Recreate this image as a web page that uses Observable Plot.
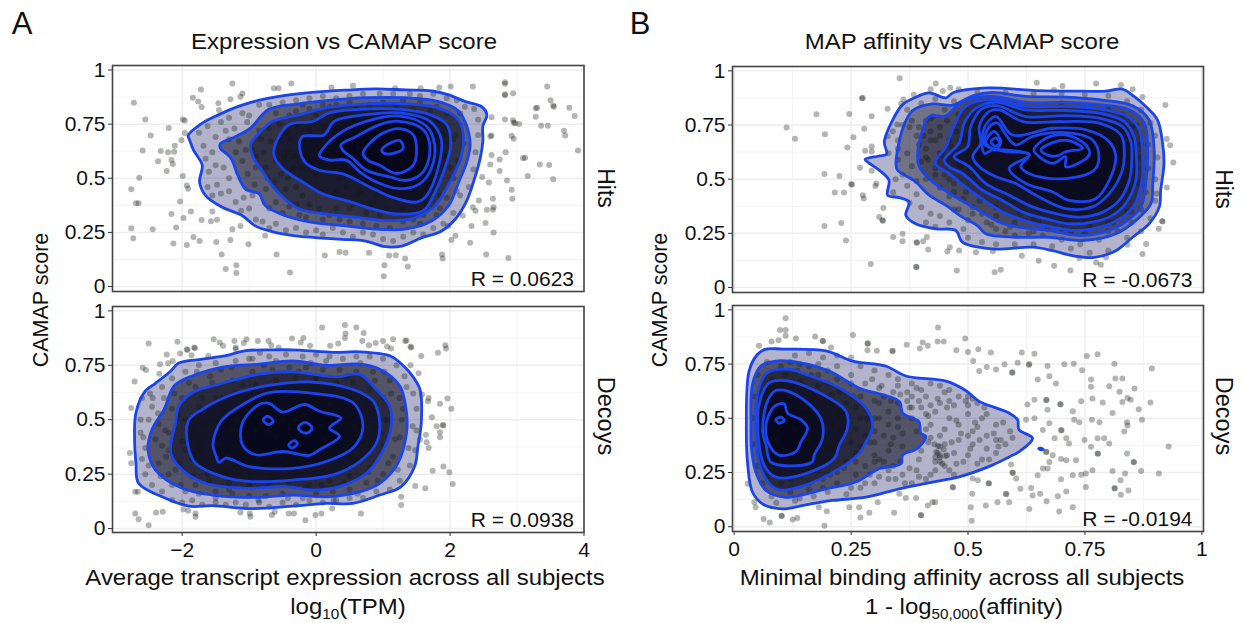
<!DOCTYPE html>
<html><head><meta charset="utf-8">
<script src="https://cdn.jsdelivr.net/npm/d3@7"></script>
<script src="https://cdn.jsdelivr.net/npm/@observablehq/plot@0.6"></script>
<style>
html,body{margin:0;padding:0;background:#fff}
#page{position:relative;width:1246px;height:623px;overflow:hidden;font-family:"Liberation Sans",Arial,sans-serif;color:#111}
#page svg{position:absolute;font-family:"Liberation Sans",Arial,sans-serif}
.t{position:absolute;white-space:nowrap;line-height:1}
.t sub{font-size:14px;line-height:0;vertical-align:-5px}
</style></head><body><div id="page"></div>
<script>
const panelTitles = ["Expression vs CAMAP score","MAP affinity vs CAMAP score"];
const xLabelsA = ["Average transcript expression across all subjects","log<sub>10</sub>(TPM)"];
const xLabelsB = ["Minimal binding affinity across all subjects","1 - log<sub>50,000</sub>(affinity)"];
const yTicks = [0,0.25,0.5,0.75,1];
const xTicksA = [-2,0,2,4];
const xTicksB = [0,0.25,0.5,0.75,1];
const rValues = ["R = 0.0623","R = 0.0938","R = -0.0673","R = -0.0194"];

const hitsExprContours = [
[-1.91,.698,-1.7,.755,-1.45,.794,-1.15,.833,-.86,.86,-.46,.883,-.06,.897,.44,.907,.89,.913,1.33,.908,1.73,.903,1.98,.885,2.23,.854,2.48,.829,2.55,.794,2.49,.74,2.49,.67,2.45,.592,2.35,.483,2.25,.397,2.08,.312,1.86,.254,1.58,.226,1.28,.187,1.03,.184,.74,.21,.39,.218,-.01,.226,-.31,.234,-.66,.254,-.91,.28,-1.1,.327,-1.4,.366,-1.65,.42,-1.74,.483,-1.7,.56,-1.83,.63,-1.89,.678],
[-1.43,.659,-1.2,.693,-.98,.732,-.71,.818,-.26,.844,.19,.86,.74,.872,1.33,.872,1.83,.854,2.13,.81,2.25,.74,2.3,.654,2.25,.576,2.13,.483,1.98,.374,1.73,.304,1.33,.265,.89,.265,.44,.28,-.06,.296,-.46,.327,-.76,.374,-.85,.428,-1.05,.449,-1.17,.514,-1.27,.592,-1.43,.639],
[-.98,.654,-.85,.709,-.65,.763,-.25,.794,.15,.826,.75,.844,1.35,.844,1.8,.826,2.1,.779,2.19,.717,2.17,.607,2,.483,1.75,.366,1.45,.315,1.05,.304,.6,.319,.15,.335,-.25,.358,-.55,.428,-.8,.53,-.93,.592],
[-.63,.607,-.58,.678,-.4,.748,-.05,.763,.2,.802,.65,.818,1.25,.818,1.7,.794,1.95,.748,2.01,.654,1.92,.545,1.75,.42,1.6,.35,1.2,.335,.85,.358,.45,.397,.1,.428,-.2,.483,-.5,.545],
[-.25,.654,-.2,.693,.12,.7,.27,.763,.75,.794,1.25,.802,1.7,.763,1.87,.678,1.82,.545,1.65,.42,1.5,.39,1.13,.413,.8,.46,.4,.52,.05,.537,-.17,.576],
[.05,.604,.15,.654,.4,.717,.75,.763,1.25,.787,1.65,.74,1.77,.654,1.72,.545,1.55,.475,1.25,.452,.9,.483,.65,.53,.45,.584,.2,.584],
[.37,.654,.6,.693,.95,.748,1.25,.763,1.6,.724,1.7,.639,1.6,.53,1.35,.49,1.1,.506,.75,.537,.55,.592,.4,.63],
[.7,.615,.8,.662,1,.709,1.25,.729,1.45,.7,1.5,.63,1.45,.56,1.2,.522,.95,.56,.77,.584],
[.98,.63,1.1,.662,1.25,.674,1.3,.639,1.15,.615,1.02,.615]];

const decoyExprContours = [
[-2.71,.408,-2.69,.532,-2.55,.632,-2.4,.667,-2.17,.724,-2.05,.76,-1.7,.778,-1.35,.794,-1.05,.817,-.65,.821,-.25,.82,.25,.809,.65,.812,1.1,.794,1.25,.763,1.4,.716,1.55,.639,1.57,.485,1.52,.377,1.47,.285,1.27,.193,.95,.154,.55,.116,.15,.116,-.35,.103,-.95,.092,-1.55,.105,-1.9,.103,-2.3,.146,-2.65,.208,-2.69,.3],
[-2.51,.362,-2.45,.455,-2.27,.547,-2.12,.655,-1.85,.701,-1.35,.744,-.85,.755,-.35,.77,.15,.75,.65,.755,.95,.732,1.25,.655,1.35,.532,1.35,.439,1.22,.3,.95,.208,.65,.169,.15,.146,-.35,.154,-.9,.143,-1.55,.154,-2,.185,-2.4,.27],
[-2.17,.347,-2.1,.485,-2.05,.562,-1.85,.624,-1.45,.663,-.85,.709,-.35,.72,.15,.701,.35,.698,.65,.709,.85,.655,1.1,.562,1.12,.47,.98,.347,.75,.254,.35,.193,-.05,.177,-.45,.193,-1.05,.185,-1.65,.208,-2,.27],
[-1.91,.377,-1.91,.493,-1.7,.547,-1.25,.616,-.75,.655,-.05,.673,.55,.639,.85,.586,.95,.485,.9,.393,.65,.308,.25,.247,-.35,.223,-.95,.216,-1.4,.239,-1.8,.3],
[-1.54,.385,-1.42,.493,-1.05,.578,-.7,.624,-.05,.621,.55,.578,.7,.47,.55,.37,.15,.308,-.35,.277,-1,.285,-1.35,.324,-1.45,.304,-1.49,.331],
[-1.1,.485,-.85,.57,-.7,.575,-.5,.535,-.17,.57,.05,.539,.37,.508,.2,.462,.35,.424,.05,.362,-.1,.336,-.5,.354,-.9,.339,-1.1,.385],
[-.79,.5,-.72,.516,-.64,.493,-.72,.478],
[-.26,.467,-.16,.488,-.06,.462,-.13,.439,-.23,.447],
[-.41,.385,-.32,.404,-.28,.39,-.36,.37]];

const hitsAffContours = [
[.28,.591,.31,.607,.326,.616,.321,.673,.339,.774,.36,.844,.385,.875,.417,.898,.453,.875,.467,.898,.545,.921,.638,.91,.745,.906,.795,.906,.83,.916,.855,.882,.88,.836,.905,.774,.916,.666,.919,.573,.912,.449,.909,.372,.887,.294,.852,.232,.816,.17,.77,.139,.723,.147,.681,.17,.638,.186,.552,.178,.488,.209,.474,.263,.431,.271,.388,.294,.367,.333,.374,.395,.353,.415,.328,.426,.331,.495,.31,.542,.289,.573],
[.346,.573,.36,.731,.381,.816,.424,.847,.467,.842,.51,.885,.552,.901,.624,.882,.709,.879,.78,.867,.852,.839,.887,.774,.898,.635,.895,.48,.891,.387,.859,.31,.816,.248,.745,.217,.674,.232,.602,.232,.538,.248,.52,.286,.488,.325,.453,.379,.417,.426,.388,.488,.349,.542],
[.392,.604,.403,.728,.417,.789,.453,.793,.488,.859,.552,.882,.624,.854,.709,.854,.78,.844,.845,.82,.877,.759,.884,.635,.88,.48,.87,.372,.845,.317,.802,.263,.738,.24,.674,.263,.609,.279,.567,.302,.517,.364,.467,.426,.424,.488,.396,.557],
[.43,.573,.453,.65,.467,.728,.495,.836,.552,.867,.624,.836,.709,.836,.78,.824,.841,.789,.866,.728,.873,.619,.872,.495,.855,.379,.83,.325,.788,.282,.73,.263,.681,.279,.631,.302,.581,.341,.545,.387,.495,.464,.46,.526],
[.449,.588,.481,.666,.492,.759,.517,.828,.56,.854,.624,.82,.709,.817,.78,.805,.834,.766,.855,.697,.86,.604,.859,.495,.837,.387,.809,.333,.766,.302,.716,.294,.667,.317,.617,.348,.574,.402,.531,.449,.488,.526,.46,.557],
[.47,.604,.499,.65,.506,.743,.527,.82,.56,.839,.624,.789,.709,.793,.78,.782,.83,.743,.848,.673,.85,.58,.845,.495,.823,.402,.788,.348,.738,.325,.688,.341,.638,.372,.588,.426,.538,.48,.503,.557],
[.51,.604,.527,.666,.524,.743,.545,.813,.567,.82,.617,.766,.702,.766,.78,.759,.827,.704,.834,.635,.83,.542,.802,.433,.766,.372,.709,.364,.645,.426,.602,.48,.56,.511,.524,.557],
[.535,.619,.531,.697,.538,.751,.56,.789,.595,.704,.681,.735,.752,.728,.802,.673,.816,.604,.802,.495,.773,.41,.716,.402,.681,.441,.624,.48,.588,.55,.631,.611,.553,.635],
[.535,.663,.546,.743,.563,.759,.581,.704,.602,.658,.638,.697,.709,.715,.766,.681,.78,.604,.77,.542,.709,.503,.638,.519,.613,.557,.631,.616,.581,.627,.553,.642],
[.641,.635,.667,.689,.709,.704,.752,.658,.759,.611,.709,.557,.709,.604,.681,.573,.652,.604],
[.656,.635,.681,.669,.716,.678,.745,.642,.709,.627,.691,.607,.67,.611],
[.538,.673,.556,.72,.57,.673,.56,.635,.545,.65],
[.549,.673,.56,.69,.567,.666,.558,.653]];

const decoyAffContours = [
[.026,.47,.032,.719,.05,.795,.068,.819,.103,.819,.196,.811,.253,.764,.324,.741,.367,.695,.453,.671,.495,.628,.524,.578,.588,.524,.606,.493,.609,.447,.638,.408,.609,.346,.588,.322,.552,.284,.481,.23,.424,.206,.353,.175,.282,.136,.21,.121,.153,.101,.103,.082,.061,.105,.039,.16,.029,.284],
[.036,.47,.039,.656,.057,.741,.089,.764,.139,.757,.203,.718,.267,.64,.353,.578,.36,.524,.395,.485,.399,.431,.41,.416,.392,.361,.36,.33,.357,.291,.31,.268,.26,.206,.196,.175,.11,.136,.068,.167,.046,.253,.037,.361],
[.046,.485,.053,.64,.071,.71,.118,.726,.153,.702,.225,.64,.282,.547,.296,.462,.282,.392,.267,.338,.225,.268,.139,.183,.089,.175,.057,.268],
[.05,.485,.057,.594,.075,.664,.11,.674,.168,.633,.239,.532,.242,.454,.225,.377,.214,.315,.153,.245,.089,.229,.064,.284],
[.061,.439,.071,.578,.089,.628,.132,.609,.185,.501,.189,.408,.171,.33,.167,.299,.118,.281,.078,.299,.068,.377],
[.068,.47,.086,.555,.107,.566,.114,.524,.143,.493,.157,.454,.143,.392,.132,.346,.096,.33,.075,.377],
[.089,.493,.1,.505,.107,.49,.096,.478],
[.651,.36,.656,.362,.661,.357,.656,.355]];

const hitsExprPoints = [
-2.72,.849,-2.55,.771,-2.47,.698,-2.59,.628,-2.64,.502,-2.76,.449,-2.69,.385,-2.65,.385,-2.76,.269,-2.73,.223,-2.44,.265,-2.13,.199,-1.93,.192,-1.83,.229,-1.74,.21,-1.49,.206,-1.35,.081,-1.19,.098,-1.19,.062,-.39,.065,-1.41,.148,-1.28,.215,-1.25,.265,-1.13,.28,-1.01,.195,-.76,.234,-.59,.148,.13,.143,1.02,.098,1.01,.047,1.37,.093,1.33,.129,1.88,.148,1.89,.129,2.54,.148,2.87,.132,1.09,.143,1.19,.145,.79,.156,.44,.156,.35,.16,-2.16,.335,-1.98,.316,-2.09,.273,-1.87,.347,-1.71,.307,-1.57,.301,-1.48,.308,-1.55,.347,-2.03,.393,-1.93,.467,-1.91,.452,-1.99,.511,-2.23,.534,-2.16,.584,-2.14,.566,-2.36,.579,-2.32,.626,-2.21,.62,-2.12,.623,-2.11,.65,-2.01,.675,-1.96,.709,-2.2,.732,-1.99,.771,-1.96,.767,-1.84,.872,-1.76,.854,-1.71,.829,-1.72,.91,-1.25,.938,-1.28,.865,-1.1,.891,-1.13,.877,-1.46,.846,-1.45,.815,-.37,.938,-.63,.916,-.56,.916,.23,.919,.55,.927,1.18,.916,1.56,.916,1.84,.919,2.01,.924,2.34,.924,2.82,.943,2.82,.937,2.82,.888,2.82,.883,2.94,.893,3.45,.924,3.5,.86,3.55,.83,3.54,.836,3.28,.823,3.3,.826,3.78,.826,3.28,.784,3.86,.787,2.82,.771,2.94,.768,2.95,.756,2.97,.754,3.03,.751,3.36,.743,3.46,.743,3.7,.72,3.72,.698,3.91,.628,2.62,.782,2.6,.693,2.62,.697,2.92,.696,2.95,.682,2.83,.62,2.74,.587,2.62,.607,2.6,.564,3.09,.592,3.12,.595,3.34,.564,3.48,.561,3.16,.511,3.54,.495,2.74,.534,2.48,.506,2.58,.48,2.85,.49,2.92,.447,2.93,.405,2.43,.397,2.64,.405,2.34,.366,2.38,.35,2.55,.355,2.65,.366,2.64,.355,2.53,.293,2.65,.249,2.19,.327,2.32,.28,2.3,.202,2.08,.234,2.02,.215,1.97,.28,
-1.75,.71,-1.62,.74,-1.5,.69,-1.68,.65,-1.55,.62,-1.42,.76,-1.3,.78,-1.22,.73,-1.1,.8,-1.03,.76,-1.65,.59,-1.6,.53,-1.5,.56,-1.38,.55,-1.3,.5,-1.48,.47,-1.62,.46,-1.55,.42,-1.42,.43,-1.3,.44,-1.2,.39,-1.08,.41,-1.0,.36,-.9,.31,-.8,.3,-1.12,.35,-.7,.27,-.6,.29,-.45,.26,-.3,.27,-.15,.25,0,.26,.1,.24,.25,.27,.4,.25,.55,.23,.7,.25,.85,.24,1,.22,1.15,.21,1.3,.23,1.45,.25,1.6,.24,1.75,.27,1.9,.29,2.05,.34,2.15,.42,2.28,.46,2.35,.54,2.38,.62,2.42,.7,2.42,.77,2.36,.82,2.22,.83,2.1,.86,1.95,.87,1.75,.89,1.55,.88,1.4,.89,1.15,.89,.95,.89,.7,.89,.5,.88,.3,.87,.1,.88,-.1,.87,-.3,.86,-.5,.85,-.7,.84,-.85,.84,-1,.79,-1.3,.68,-1.2,.62,-1.1,.58,-1.02,.52,-.92,.47,-.75,.45,-.9,.6,-.82,.68,-.7,.73,-.75,.55,-.62,.48,-.55,.75,-.45,.71,-.3,.81,-.1,.82,.1,.84,.3,.84,.5,.85,-.42,.62,-.35,.55,-.45,.45,-.6,.39,-.4,.37,-.25,.33,-.1,.38,.1,.31,.3,.36,.5,.3,.7,.29,.9,.28,1.1,.27,1.3,.3,1.55,.29,1.8,.33,1.95,.41,2.05,.5,2.12,.58,2.2,.66,2.08,.7,2.15,.8,1.95,.8,1.8,.83,1.55,.85,1.3,.86,1,.85,.15,.45,.3,.44,.5,.36,-.1,.72,.05,.67,-.15,.6,.05,.58,.95,.33,1.3,.36,1.6,.39,1.8,.45,1.95,.6,1.9,.7,-.2,.42,.6,.42,.85,.39];
const hitsExprDense = [-.95,.63,-.9,.55,-.85,.72,-.78,.62,-.72,.5,-.68,.67,-.6,.58,-.55,.68,-.52,.52,-.48,.6,-.42,.5,-.38,.68,-.33,.6,-.3,.46,-.28,.74,-.22,.55,-.18,.66,-.14,.48,-.1,.6,-.05,.76,0,.52,.03,.64,.08,.44,.12,.74,.18,.55,.22,.62,.26,.42,.3,.78,.35,.5,.4,.66,.45,.46,.5,.74,.55,.38,.6,.6,.65,.44,.7,.78,.75,.34,.8,.55,.85,.8,.9,.42,.95,.63,1,.76,1.05,.36,1.1,.58,1.15,.8,1.2,.4,1.25,.68,1.3,.56,1.35,.8,1.4,.34,1.45,.72,1.5,.46,1.55,.6,1.6,.78,1.65,.38,1.7,.7,1.75,.5,1.8,.76,1.85,.42,1.9,.62,1.95,.74,2,.55,2.05,.68,2.1,.44,-1.35,.72,-1.15,.67,-1.05,.63,-.95,.42,-.7,.36,-.5,.34,-.3,.38,-.15,.32,.05,.36,.2,.33,.35,.31,1.45,.31,1.6,.33,1.85,.36,-.6,.8,-.4,.79,-.2,.84,0,.79,.2,.83,.4,.8,.6,.82,.8,.84,1,.81,1.2,.84,1.45,.82,1.7,.81];

const decoyExprPoints = [
-2.5,.85,-2.07,.858,-1.53,.87,-1.44,.855,-1.39,.84,-1.22,.862,-1.2,.832,-1.04,.87,-1.08,.852,-.87,.862,-.71,.862,-.36,.873,-.19,.875,-.23,.855,.09,.924,.43,.935,.44,.896,.43,.875,.6,.924,.71,.898,.69,.862,.89,.852,1,.862,1.15,.87,.79,.842,1.06,.836,1.12,.827,1.33,.862,1.35,.864,1.41,.835,1.42,.832,1.57,.793,1.82,.808,1.93,.842,1.94,.827,1.53,.713,1.41,.75,1.58,.616,1.68,.6,1.67,.585,1.85,.573,1.96,.597,2.02,.55,1.73,.511,1.89,.474,1.9,.476,1.8,.47,1.85,.442,1.85,.419,1.64,.431,1.55,.408,1.65,.396,1.68,.37,1.74,.266,1.9,.285,1.99,.259,2.04,.205,1.63,.185,1.48,.196,1.27,.146,1.27,.108,.67,.069,.24,.092,.08,.069,-.01,.062,-.16,.038,-.33,.069,-.41,.069,-.66,.062,-.62,.077,-.99,.069,-.98,.054,-1.13,.074,-1.8,.069,-1.8,.054,-1.98,.088,-1.91,.082,-2.29,.077,-2.39,.074,-2.7,.069,-2.65,.043,-2.5,.015,-2.7,.169,-2.66,.169,-2.76,.3,-2.78,.347,-2.76,.554,-2.71,.675,-2.59,.739,-2.54,.728,-2.33,.755,-2.34,.711,-2.21,.759,-2.14,.77,-2.23,.8,-2.03,.804,-1.93,.824,-1.92,.82,-1.82,.832,-1.81,.828,-1.86,.796,-1.61,.793,-1.2,.824,-.84,.808,-.67,.842,-.56,.832,-.09,.84,.21,.84,.33,.85,
-2.6,.6,-2.62,.5,-2.58,.42,-2.6,.32,-2.55,.25,-2.45,.2,-2.3,.17,-2.15,.13,-2,.12,-1.85,.13,-1.7,.11,-1.5,.12,-1.35,.11,-1.2,.12,-1.05,.11,-.85,.12,-.7,.1,-.5,.12,-.3,.11,-.1,.13,.1,.12,.3,.13,.5,.14,.7,.14,.9,.17,1.1,.18,1.25,.22,1.4,.29,1.48,.36,1.5,.45,1.5,.55,1.45,.62,1.32,.7,1.2,.75,1,.78,.8,.79,.6,.79,.4,.78,.2,.79,0,.8,-.2,.79,-.45,.8,-.7,.79,-.95,.78,-1.2,.77,-1.5,.76,-1.75,.75,-1.95,.72,-2.15,.69,-2.3,.65,-2.48,.62,-2.45,.56,-2.5,.5,-2.35,.48,-2.3,.38,-2.35,.3,-2.2,.25,-2.15,.2,-1.95,.17,-1.75,.16,-1.5,.17,-1.25,.16,-1,.15,-.75,.15,-.5,.16,-.2,.14,0,.16,.25,.17,.5,.18,.75,.21,1,.25,1.15,.33,1.25,.42,1.28,.5,1.25,.6,1.1,.68,.85,.72,.6,.72,.35,.73,.1,.73,-.15,.74,-.4,.74,-.65,.73,-.95,.72,-1.25,.68,-1.55,.67,-1.8,.65,-2,.6,-2.15,.55,-2.25,.45,-2.2,.36,-2.05,.3,-1.85,.24,-1.6,.22,-1.3,.21,-1,.2,-.7,.2,-.4,.21,-.1,.2,.2,.22,.5,.24,.8,.28,1,.38,1.05,.5,1,.6,.8,.64,.55,.67,.3,.67,0,.69,-.3,.69,-.6,.68,-.9,.66,-1.2,.62,-1.5,.6,-1.75,.56,-1.95,.5,-2,.4,-1.85,.32,-1.65,.27,-1.35,.26,-1,.25,-.65,.24,-.3,.25,.05,.24,.35,.27,.6,.31,.8,.37,.85,.47,.75,.56,.5,.6,.2,.63,-.15,.64,-.5,.63,-.8,.61,-1.1,.57,-1.4,.53,-1.65,.48,-1.75,.4,-1.55,.33,-1.2,.3,-.85,.29,-.45,.3,-.1,.29,.2,.32,.45,.36,.62,.43,.5,.52,.2,.57,-.3,.6,-.65,.57,-1,.52,-1.25,.45,-1.2,.38,-.95,.36,-.6,.42,-.3,.42,-.2,.52,.1,.47,-.7,.45,-.5,.5,-.9,.45];
const decoyExprDense = [-2.62,.44,-2.55,.37,-2.5,.29,-2.44,.6,-2.4,.41,-2.36,.53,-2.32,.24,-2.27,.6,-2.24,.33,-2.2,.44,-2.12,.62,-2.1,.27,-2.06,.52,-2.02,.2,-1.95,.36,-1.9,.67,-1.88,.45,-1.8,.2,-1.78,.72,-1.72,.36,-1.7,.6,-1.62,.25,-1.58,.7,-1.55,.5,-1.5,.14,-1.45,.39,-1.42,.73,-1.4,.6,-1.32,.33,-1.3,.18,-1.26,.74,-1.18,.5,-1.15,.26,-1.1,.66,-1.05,.41,-1,.78,-.95,.29,-.92,.55,-.86,.13,-.82,.48,-.78,.75,-.72,.22,-.7,.62,-.62,.36,-.6,.77,-.55,.27,-.52,.54,-.45,.66,-.42,.14,-.38,.38,-.32,.5,-.26,.72,-.22,.31,-.16,.19,-.12,.44,-.08,.76,-.02,.35,.02,.58,.08,.2,.12,.41,.15,.77,.22,.52,.26,.13,.3,.4,.36,.6,.42,.21,.46,.7,.52,.33,.58,.47,.62,.16,.66,.76,.7,.4,.74,.6,.78,.26,.84,.53,.88,.68,.92,.22,.96,.44,1.02,.72,1.08,.3,1.12,.62,1.18,.41,1.22,.27,1.3,.55,1.35,.65,1.38,.37,1.44,.47];

const hitsAffPoints = [
.354,.966,.273,.873,.275,.875,.176,.8,.246,.801,.294,.79,.328,.825,.112,.738,.13,.687,.194,.707,.278,.733,.255,.694,.242,.646,.28,.631,.294,.651,.294,.628,.269,.553,.294,.539,.193,.524,.225,.515,.25,.477,.252,.475,.304,.48,.302,.468,.215,.439,.235,.439,.275,.426,.277,.411,.319,.367,.31,.326,.317,.31,.318,.308,.193,.284,.229,.298,.239,.217,.292,.109,.34,.233,.36,.248,.36,.214,.39,.209,.391,.207,.404,.214,.412,.233,.415,.175,.389,.096,.39,.094,.461,.186,.456,.166,.481,.171,.517,.163,.553,.167,.615,.147,.651,.124,.684,.101,.719,.078,.476,.078,.557,.07,.57,.082,.738,.136,.774,.116,.784,.105,.795,.14,.841,.197,.873,.155,.881,.201,.908,.271,.915,.307,.916,.305,.903,.434,.925,.462,.939,.577,.932,.656,.925,.685,.922,.842,.873,.879,.852,.915,.827,.935,.774,.942,.702,.93,.684,.911,.647,.945,.48,.915,.462,.922,.446,.907,.431,.941,.42,.915,.384,.891,.362,.868,.357,.848,.349,.752,.339,.721,.328,.698,
.33,.62,.35,.59,.345,.5,.36,.52,.34,.44,.37,.47,.39,.43,.375,.39,.4,.37,.42,.34,.41,.3,.44,.33,.46,.3,.49,.27,.43,.28,.5,.23,.53,.21,.56,.2,.6,.2,.64,.2,.68,.19,.72,.18,.76,.16,.8,.17,.84,.23,.87,.26,.89,.32,.9,.4,.9,.5,.905,.6,.9,.7,.89,.76,.87,.82,.84,.86,.8,.885,.75,.89,.7,.895,.64,.895,.58,.9,.52,.9,.47,.86,.43,.87,.4,.85,.37,.82,.36,.75,.35,.68,.37,.62,.38,.56,.375,.74,.39,.7,.395,.66,.41,.77,.42,.72,.43,.68,.44,.62,.41,.6,.44,.74,.45,.82,.43,.52,.41,.5,.44,.46,.46,.5,.47,.44,.49,.41,.51,.37,.53,.34,.47,.36,.5,.31,.55,.29,.58,.26,.6,.24,.63,.25,.66,.24,.7,.22,.74,.2,.78,.22,.82,.26,.85,.3,.87,.36,.88,.44,.885,.55,.885,.66,.46,.68,.47,.61,.48,.57,.5,.76,.48,.8,.42,.78,.4,.58,.39,.49,.35,.64,.38,.77,.56,.33,.6,.3,.65,.3,.7,.27,.75,.25,.8,.3,.84,.35,.6,.4,.65,.36,.7,.33,.75,.34,.8,.37,.85,.45,.86,.55,.87,.66,.85,.74,.8,.82,.7,.85,.6,.85,.52,.8,.5,.7,.55,.56,.6,.6,.65,.5,.7,.45,.75,.42,.8,.52,.75,.62,.7,.66,.65,.7,.6,.76,.72,.74,.78,.7,.62,.43,.68,.38];
const hitsAffDense = [.395,.74,.405,.7,.41,.64,.42,.68,.415,.59,.425,.79,.43,.55,.44,.7,.445,.61,.45,.52,.455,.77,.46,.42,.465,.65,.47,.48,.475,.72,.48,.36,.485,.56,.49,.68,.495,.44,.5,.62,.505,.79,.51,.34,.515,.52,.52,.71,.525,.4,.53,.6,.54,.3,.55,.47,.56,.37,.57,.6,.58,.41,.59,.28,.6,.53,.61,.35,.62,.46,.63,.68,.64,.32,.65,.57,.66,.43,.67,.27,.68,.61,.69,.36,.7,.5,.71,.3,.72,.7,.73,.44,.74,.34,.75,.58,.76,.28,.77,.48,.78,.65,.79,.38,.8,.75,.81,.3,.82,.55,.83,.44,.84,.66,.85,.35,.86,.75,.865,.48,.87,.6,.83,.8,.78,.8,.7,.82,.62,.8,.54,.84,.56,.27,.64,.26,.72,.25,.8,.26];

const decoyAffPoints = [
.11,.961,.098,.907,.11,.907,.11,.88,.08,.854,.095,.86,.053,.834,.132,.868,.173,.877,.189,.857,.19,.855,.207,.826,.254,.884,.285,.846,.286,.844,.285,.814,.305,.811,.338,.811,.339,.809,.369,.839,.403,.849,.414,.834,.397,.822,.436,.919,.435,.854,.448,.854,.494,.868,.475,.814,.5,.806,.522,.818,.511,.764,.549,.803,.615,.803,.642,.798,.606,.756,.63,.746,.631,.75,.67,.741,.706,.749,.726,.752,.754,.787,.777,.795,.813,.752,.893,.73,.744,.721,.54,.736,.56,.725,.594,.71,.595,.712,.578,.749,.524,.718,.649,.679,.674,.694,.688,.66,.763,.679,.763,.645,.802,.648,.815,.684,.83,.684,.856,.637,.824,.622,.841,.594,.848,.586,.83,.575,.89,.573,.865,.542,.872,.493,.84,.482,.841,.467,.834,.439,.929,.37,.84,.338,.854,.299,.855,.297,.809,.257,.87,.257,.908,.245,.836,.245,.813,.178,.814,.176,.843,.167,.826,.214,.827,.147,.766,.26,.752,.183,.724,.09,.695,.07,.71,.163,.692,.141,.668,.118,.654,.152,.638,.144,.635,.178,.612,.175,.631,.082,
.667,.583,.668,.585,.697,.566,.698,.564,.67,.539,.724,.532,.727,.493,.699,.446,.7,.444,.738,.482,.765,.493,.781,.482,.716,.384,.749,.4,.777,.408,.791,.408,.802,.384,.763,.369,.777,.338,.778,.336,.667,.346,.668,.344,.681,.33,.674,.299,.699,.312,.731,.307,.71,.307,.66,.268,.67,.268,.649,.237,.699,.219,.724,.237,.742,.24,.752,.245,.71,.408,.685,.408,.742,.578,.766,.591,.788,.573,.809,.524,.642,.586,.627,.563,.624,.493,.642,.5,.66,.446,.674,.477,.595,.25,.596,.248,.603,.222,.592,.287,.544,.201,.545,.199,.51,.222,.521,.214,.467,.183,.468,.181,.509,.152,.43,.113,.424,.113,.414,.098,.399,.054,.4,.052,.506,.09,.508,.028,.538,.098,.563,.113,.581,.152,.582,.15,.588,.113,.342,.064,.289,.064,.27,.043,.246,.09,.267,.09,.307,.113,.353,.152,.367,.132,.389,.132,.193,.005,.198,.071,.181,.09,.135,.04,.125,.033,.101,.051,.102,.049,.063,.036,.076,.02,.043,.113,.029,.198,.046,.09,
.42,.66,.45,.62,.48,.6,.44,.57,.41,.6,.38,.66,.35,.68,.33,.7,.3,.72,.27,.74,.25,.78,.22,.79,.19,.78,.16,.8,.13,.79,.31,.64,.34,.62,.37,.58,.4,.55,.43,.53,.46,.5,.5,.52,.53,.5,.56,.47,.59,.44,.57,.4,.54,.42,.51,.44,.48,.47,.45,.45,.42,.47,.42,.41,.45,.38,.48,.4,.51,.38,.54,.36,.56,.34,.53,.31,.5,.33,.47,.34,.44,.32,.43,.3,.45,.28,.42,.24,.39,.26,.36,.24,.33,.22,.3,.2,.27,.18,.24,.15,.2,.16,.17,.14,.13,.12,.09,.11,.4,.35,.44,.37,.435,.34,.43,.32,.44,.3,.445,.29,.33,.26,.31,.31,.33,.35,.34,.41,.36,.43,.33,.47,.31,.5,.33,.53,.3,.58,.27,.6,.25,.66,.22,.68,.2,.72,.18,.75,.16,.74,.29,.39,.3,.44,.26,.45,.27,.5,.24,.57,.21,.61,.18,.65,.26,.34,.24,.3,.22,.25,.19,.22,.16,.2,.12,.16,.28,.28,.26,.24,.2,.56,.17,.55,.36,.37,.39,.44,.41,.52,.38,.5,.35,.5,.37,.62,.4,.63,.44,.65,.5,.6,.52,.57,.05,.7,.045,.6,.04,.5,.04,.38,.05,.28,.06,.2,.08,.14,.14,.13,.1,.74,.07,.76,.12,.76,.2,.36,.15,.65,.11,.7,.08,.68,.065,.6,.07,.23,.12,.22];
const decoyAffDense = [.432,.345,.44,.33,.448,.356,.436,.372,.452,.326,.428,.38,.3,.3,.32,.42,.35,.46,.38,.55,.41,.45,.44,.42,.47,.56,.5,.42,.52,.46,.54,.52,.56,.4,.58,.38,.49,.3,.46,.26,.41,.22,.38,.2,.34,.28,.31,.23,.28,.2,.25,.18,.22,.2,.19,.18,.16,.17,.28,.66,.32,.6,.35,.57,.38,.6,.42,.56,.46,.58,.5,.56,.25,.7,.22,.74,.18,.7,.14,.75,.3,.5,.28,.42,.26,.55,.27,.37,.3,.33,.23,.45,.22,.52,.2,.6,.19,.42,.2,.3,.17,.26,.14,.23,.1,.2,.07,.3,.06,.42,.06,.54,.08,.62,.1,.66,.14,.67,.17,.6,.21,.47,.21,.36,.18,.5,.16,.4,.15,.55,.12,.6,.11,.3,.09,.4,.13,.45,.11,.5,
.315,.65,.335,.58,.355,.61,.375,.55,.395,.58,.415,.51,.435,.59,.455,.55,.475,.49,.495,.58,.515,.48,.535,.55,.555,.43,.575,.48,.595,.41,.525,.4,.505,.36,.485,.43,.465,.39,.475,.29,.455,.33,.415,.39,.395,.31,.375,.27,.355,.3,.335,.38,.32,.3,.345,.22,.365,.2,.395,.23,.43,.26,.47,.24,.52,.29,.545,.31,.565,.37,.3,.39,.285,.5,.31,.57,.255,.6,.24,.5,.25,.39,.235,.27,.205,.24,.18,.26,.26,.3,.29,.24,.225,.62,.2,.66,.165,.7,.135,.72,.295,.68,.35,.65,.39,.64,.46,.63,.51,.59];

const crisp = flat => d3.range(0, flat.length, 2).map(i => ({x: flat[i], y: flat[i + 1]}));
const page = document.getElementById("page");

function panel({contours, points, dense, core, xDomain, yDomain, left, top, w, h, rLabel, rDx, xMajor, xMinor, xTicks, xFormat}) {
  const ml = 60, mt = 16, mr = 10, mb = xTicks ? 40 : 16;
  const lines = contours.flatMap((c, level) => crisp(c).map(p => ({...p, level})));
  const outer = lines.filter(d => d.level === 0);
  const inner = lines.filter(d => d.level > 0);
  const plot = Plot.plot({
    width: w + ml + mr, height: h + mt + mb,
    marginLeft: ml, marginTop: mt, marginRight: mr, marginBottom: mb,
    x: {domain: xDomain, axis: null},
    y: {domain: yDomain, axis: null},
    style: {background: "transparent", fontFamily: "Liberation Sans, Arial, sans-serif"},
    marks: [
      Plot.ruleX(xMinor, {stroke: "#f4f4f4", strokeWidth: 1}),
      Plot.ruleX(xMajor, {stroke: "#eeeeee", strokeWidth: 1.5}),
      Plot.ruleY([.125,.375,.625,.875], {stroke: "#f4f4f4", strokeWidth: 1}),
      Plot.ruleY(yTicks, {stroke: "#eeeeee", strokeWidth: 1.5}),
      Plot.line(outer, {x: "x", y: "y", z: "level", curve: "catmull-rom-closed", fill: "#14145c", fillOpacity: 0.32, stroke: "none"}),
      Plot.line(inner, {x: "x", y: "y", z: "level", curve: "catmull-rom-closed", fill: "#05051a", fillOpacity: core, stroke: "none"}),
      Plot.dot(crisp(points).concat(crisp(dense)), {x: "x", y: "y", r: 3, fill: "#101a10", fillOpacity: 0.32, stroke: "none"}),
      Plot.line(lines, {x: "x", y: "y", z: "level", curve: "catmull-rom-closed", stroke: "#1a44ee", strokeWidth: 2.8, fill: "none"}),
      Plot.axisY(yTicks, {anchor: "left", tickSize: 4, tickPadding: 3, fontSize: 21, label: null, tickFormat: d => String(d), stroke: "#333", color: "#111"}),
      ...(xTicks ? [Plot.axisX(xTicks, {anchor: "bottom", tickSize: 4, tickPadding: 6, fontSize: 21, label: null, tickFormat: xFormat, stroke: "#333"})] : []),
      Plot.frame({stroke: "#444", strokeWidth: 1.6}),
      Plot.text([rLabel], {frameAnchor: "bottom-right", dx: rDx, dy: -6, fontSize: 21, fill: "#111"})
    ]
  });
  plot.style.left = (left - ml) + "px";
  plot.style.top = (top - mt) + "px";
  page.appendChild(plot);
}

const fmtA = d => d < 0 ? "\u2212" + (-d) : String(d);
const fmtB = d => String(d);
const gridA = {xMajor: xTicksA, xMinor: [-1,1,3]};
const gridB = {xMajor: xTicksB, xMinor: [.125,.375,.625,.875]};

panel({contours: hitsExprContours, points: hitsExprPoints, dense: hitsExprDense, core: .5, xDomain: [-3.04,4], yDomain: [-.023,1.0208], left: 112, top: 64.5, w: 471.5, h: 226, rLabel: rValues[0], rDx: -10, ...gridA});
panel({contours: decoyExprContours, points: decoyExprPoints, dense: decoyExprDense, core: .55, xDomain: [-3.04,4], yDomain: [-.018,1.02], left: 112, top: 305.7, w: 471.5, h: 226, rLabel: rValues[1], rDx: -10, xTicks: xTicksA, xFormat: fmtA, ...gridA});
panel({contours: hitsAffContours, points: hitsAffPoints, dense: hitsAffDense, core: .38, xDomain: [-.0036,1.0035], yDomain: [-.023,1.02], left: 732, top: 66, w: 471, h: 226, rLabel: rValues[2], rDx: -11, ...gridB});
panel({contours: decoyAffContours, points: decoyAffPoints, dense: decoyAffDense, core: .55, xDomain: [-.0036,1.0035], yDomain: [-.022,1.02], left: 732, top: 305, w: 471, h: 226, rLabel: rValues[3], rDx: -11, xTicks: xTicksB, xFormat: fmtB, ...gridB});

function label(html, x, y, size, rot, sx) {
  const d = document.createElement("div");
  d.className = "t";
  d.innerHTML = html;
  d.style.left = x + "px"; d.style.top = y + "px"; d.style.fontSize = size + "px";
  d.style.transform = "translate(-50%,-50%)" + (rot ? " rotate(" + rot + "deg)" : "") + (sx ? " scaleX(" + sx + ")" : "");
  page.appendChild(d);
}
label("A", 22, 23, 31);
label("B", 640, 23, 31);
label(panelTitles[0], 344, 42, 22, 0, 1.09);
label(panelTitles[1], 962, 42, 22, 0, 1.09);
label("CAMAP score", 42, 300, 21.5, -90);
label("CAMAP score", 661, 300, 21.5, -90);
label(xLabelsA[0], 345, 578, 22, 0, 1.09);
label(xLabelsA[1], 348, 607, 22, 0, 1.09);
label(xLabelsB[0], 961.5, 578, 22, 0, 1.09);
label(xLabelsB[1], 964, 607, 22, 0, 1.09);
label("Hits", 605, 188, 23, 90);
label("Decoys", 605, 416, 23.5, 90);
label("Hits", 1223, 189, 23, 90);
label("Decoys", 1223, 416, 23.5, 90);
</script></body></html>
